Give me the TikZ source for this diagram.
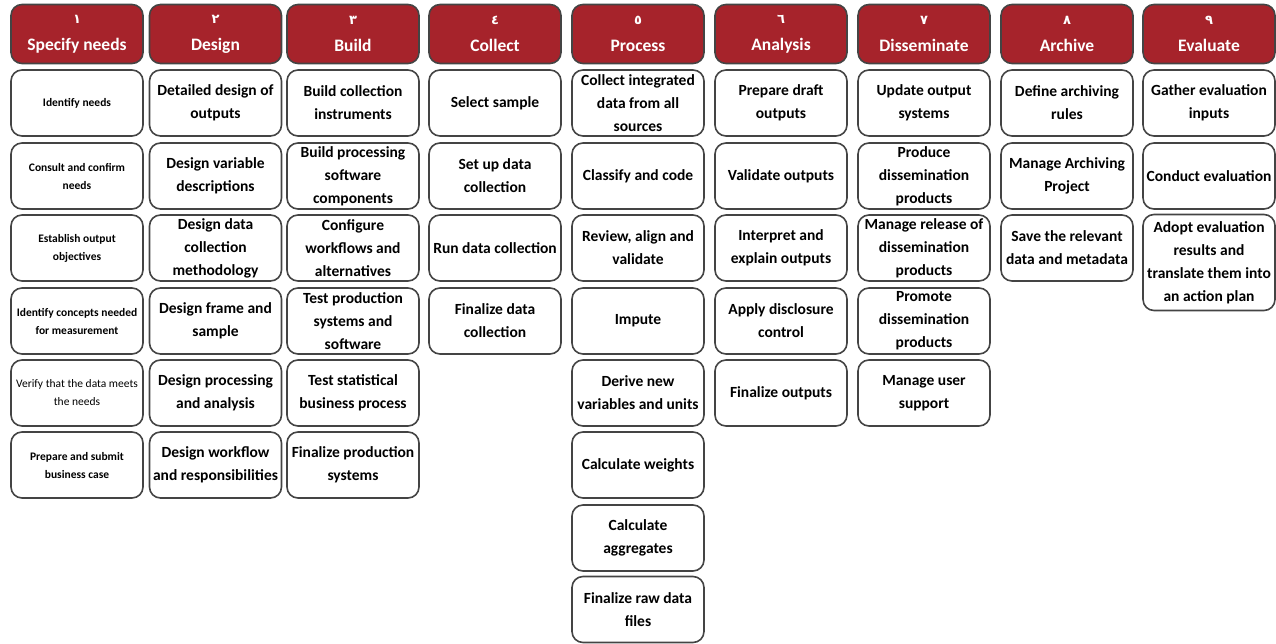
\documentclass[tikz,border=0pt]{standalone}
\usepackage{fontspec}
\setmainfont{Carlito}
\newfontfamily\arabicfont[Script=Arabic]{DejaVu Sans}
\TeXXeTstate=1
\usetikzlibrary{positioning}
\definecolor{phasered}{RGB}{166,35,43}
\definecolor{boxline}{RGB}{68,68,68}
\tikzset{
    phase/.style={draw=boxline, line width=1.6pt, fill=phasered, rounded corners=11pt,
        minimum width=132pt, minimum height=59pt, text=white, align=center,
        font=\fontsize{17.5}{27}\selectfont\bfseries, inner sep=0pt},
    task/.style={draw=boxline, line width=1.6pt, fill=white, rounded corners=11pt,
        minimum width=132pt, minimum height=66pt, align=center,
        font=\fontsize{15.5}{23}\selectfont\bfseries, inner sep=0pt},
    smalltask/.style={task, font=\fontsize{11.5}{18}\selectfont\bfseries}
}
\newcommand{\ar}[1]{{\arabicfont\fontsize{13}{13}\selectfont\beginR #1\endR}}

\begin{document}
\begin{tikzpicture}[x=1pt,y=-1pt]

    \useasboundingbox (0,0) rectangle (1276,643);

    % phase headers
    \node[phase] (h1) at (77,34)   {\ar{١}\\Specify needs};
    \node[phase] (h2) at (215.5,34){\ar{٢}\\Design};
    \node[phase] (h3) at (353,34)  {\ar{٣}\\Build};
    \node[phase] (h4) at (495,34)  {\ar{٤}\\Collect};
    \node[phase] (h5) at (638,34)  {\ar{٥}\\Process};
    \node[phase] (h6) at (781,34)  {\ar{٦}\\Analysis};
    \node[phase] (h7) at (924,34)  {\ar{٧}\\Disseminate};
    \node[phase] (h8) at (1067,34) {\ar{٨}\\Archive};
    \node[phase] (h9) at (1209,34) {\ar{٩}\\Evaluate};

    % specify needs
    \node[smalltask] (spec1) at (77,103) {Identify needs};
    \node[smalltask] (spec2) at (77,176) {Consult and confirm\\needs};
    \node[smalltask] (spec3) at (77,248) {Establish output\\objectives};
    \node[smalltask] (spec4) at (77,321) {Identify concepts needed\\for measurement};
    \node[smalltask, font=\fontsize{11.5}{18}\selectfont] (spec5) at (77,393) {Verify that the data meets\\the needs};
    \node[smalltask] (spec6) at (77,465) {Prepare and submit\\business case};

    % design
    \node[task] (des1) at (215.5,103) {Detailed design of\\outputs};
    \node[task] (des2) at (215.5,176) {Design variable\\descriptions};
    \node[task] (des3) at (215.5,248) {Design data\\collection\\methodology};
    \node[task] (des4) at (215.5,321) {Design frame and\\sample};
    \node[task] (des5) at (215.5,393) {Design processing\\and analysis};
    \node[task] (des6) at (215.5,465) {Design workflow\\and responsibilities};

    % build
    \node[task] (bld1) at (353,103) {Build collection\\instruments};
    \node[task] (bld2) at (353,176) {Build processing\\software\\components};
    \node[task] (bld3) at (353,248) {Configure\\workflows and\\alternatives};
    \node[task] (bld4) at (353,321) {Test production\\systems and\\software};
    \node[task] (bld5) at (353,393) {Test statistical\\business process};
    \node[task] (bld6) at (353,465) {Finalize production\\systems};

    % collect
    \node[task] (col1) at (495,103) {Select sample};
    \node[task] (col2) at (495,176) {Set up data\\collection};
    \node[task] (col3) at (495,248) {Run data collection};
    \node[task] (col4) at (495,321) {Finalize data\\collection};

    % process
    \node[task] (proc1) at (638,103) {Collect integrated\\data from all\\sources};
    \node[task] (proc2) at (638,176) {Classify and code};
    \node[task] (proc3) at (638,248) {Review, align and\\validate};
    \node[task] (proc4) at (638,321) {Impute};
    \node[task] (proc5) at (638,393) {Derive new\\variables and units};
    \node[task] (proc6) at (638,465) {Calculate weights};
    \node[task] (proc7) at (638,538) {Calculate\\aggregates};
    \node[task] (proc8) at (638,609.5) {Finalize raw data\\files};

    % analysis
    \node[task] (ana1) at (781,103) {Prepare draft\\outputs};
    \node[task] (ana2) at (781,176) {Validate outputs};
    \node[task] (ana3) at (781,248) {Interpret and\\explain outputs};
    \node[task] (ana4) at (781,321) {Apply disclosure\\control};
    \node[task] (ana5) at (781,393) {Finalize outputs};

    % disseminate
    \node[task] (dis1) at (924,103) {Update output\\systems};
    \node[task] (dis2) at (924,176) {Produce\\dissemination\\products};
    \node[task] (dis3) at (924,248) {Manage release of\\dissemination\\products};
    \node[task] (dis4) at (924,321) {Promote\\dissemination\\products};
    \node[task] (dis5) at (924,393) {Manage user\\support};

    % archive
    \node[task] (arc1) at (1067,103) {Define archiving\\rules};
    \node[task] (arc2) at (1067,176) {Manage Archiving\\Project};
    \node[task] (arc3) at (1067,248) {Save the relevant\\data and metadata};

    % evaluate
    \node[task] (eva1) at (1209,103) {Gather evaluation\\inputs};
    \node[task] (eva2) at (1209,176) {Conduct evaluation};
    \node[task, minimum height=96pt] (eva3) at (1209,262.5) {Adopt evaluation\\results and\\translate them into\\an action plan};

\end{tikzpicture}
\end{document}
